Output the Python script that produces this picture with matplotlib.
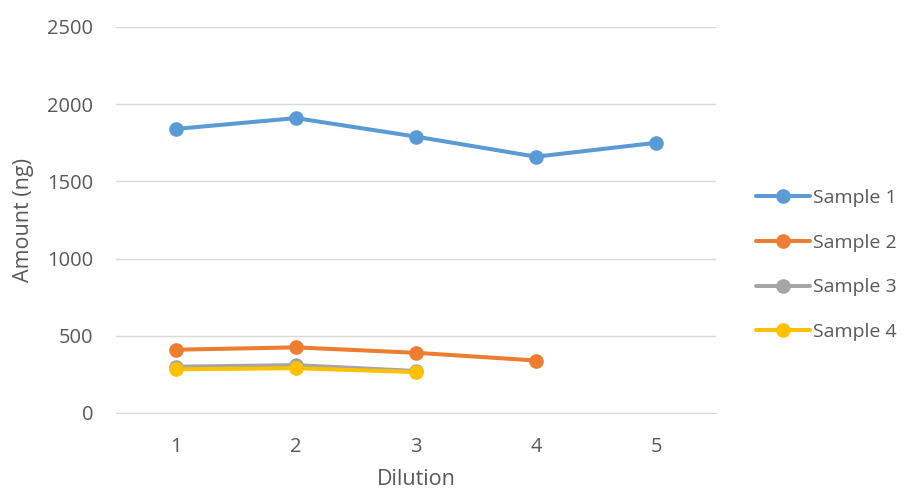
import matplotlib
matplotlib.use("Agg")
import matplotlib.pyplot as plt

dilution = [1, 2, 3, 4, 5]
sample1 = [1840, 1910, 1790, 1660, 1750]
sample2 = [410, 425, 390, 340]
sample3 = [300, 310, 272]
sample4 = [283, 290, 265]
series_names = ["Sample 1", "Sample 2", "Sample 3", "Sample 4"]
yticks = [0, 500, 1000, 1500, 2000, 2500]

colors = ["#5B9BD5", "#ED7D31", "#A5A5A5", "#FFC000"]
plt.rcParams['font.family'] = ['Open Sans', 'DejaVu Sans']

fig = plt.figure(figsize=(9.05, 4.92), dpi=100)
ax = fig.add_axes([116/905, 1-413/492, 600/905, 386/492])

data = [sample1, sample2, sample3, sample4]
for name, vals, c in zip(series_names, data, colors):
    ax.plot(dilution[:len(vals)], vals, color=c, lw=2.9, marker='o', ms=9.5,
            label=name, solid_capstyle='round', zorder=3)

ax.set_xlim(0.5, 5.5)
ax.set_ylim(0, 2500)
ax.set_yticks(yticks)
ax.set_xticks(dilution)
ax.grid(axis='y', color='#D9D9D9', lw=1)
ax.set_axisbelow(True)
for s in ['top', 'right', 'left']:
    ax.spines[s].set_visible(False)
ax.spines['bottom'].set_color('#D9D9D9')
ax.tick_params(axis='both', length=0, colors='#595959', labelsize=14.5)
ax.tick_params(axis='x', pad=17)
ax.tick_params(axis='y', pad=16.5)
ax.set_xlabel("Dilution", fontsize=15.5, color='#595959', labelpad=9)
ax.set_ylabel("Amount (ng)", fontsize=15.5, color='#595959', labelpad=9)

leg = fig.legend(loc='center left', bbox_to_anchor=(756/905, 1-265/492), frameon=False,
                 borderpad=0, borderaxespad=0,
                 fontsize=14, labelspacing=1.38, handlelength=2.8, handletextpad=0.15,
                 labelcolor='#595959')

fig.savefig("out.png", dpi=100)
